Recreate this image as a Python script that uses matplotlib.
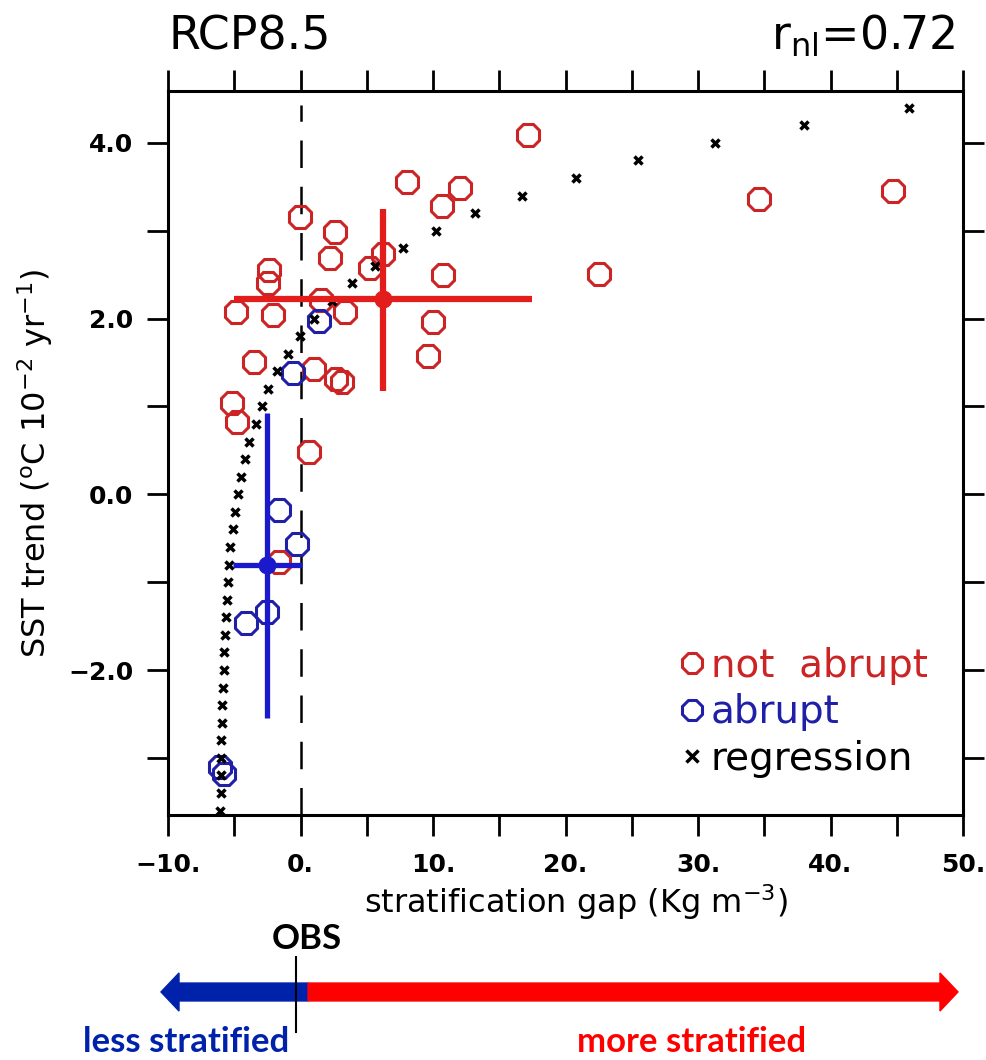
import numpy as np
import matplotlib
matplotlib.use('Agg')
import matplotlib.pyplot as plt
from matplotlib.lines import Line2D
from matplotlib.patches import Polygon
from matplotlib.ticker import FixedLocator, FixedFormatter
from matplotlib.transforms import blended_transform_factory

plt.rcParams['font.family'] = ['DejaVu Sans']
plt.rcParams['mathtext.default'] = 'regular'

# models, not abrupt (red) / abrupt (blue)
not_abrupt_x = [17.2, 8.0, 12.0, 10.7, -0.05, 2.6, 2.2, 5.25, 6.2, 10.75, -2.4, -2.45, -4.9, -2.1,
                1.55, 3.35, 10.0, 9.6, -3.5, 1.0, 2.7, 3.1, -5.2, -4.8, 0.65, -1.6, 22.5, 34.6, 44.7]
not_abrupt_y = [4.09, 3.55, 3.49, 3.28, 3.16, 2.99, 2.69, 2.58, 2.74, 2.49, 2.55, 2.40, 2.07, 2.04,
                2.21, 2.08, 1.96, 1.57, 1.51, 1.43, 1.31, 1.28, 1.04, 0.82, 0.48, -0.77, 2.51, 3.36, 3.45]
abrupt_x = [1.4, -0.55, -1.6, -0.25, -2.5, -4.1, -6.1, -5.8]
abrupt_y = [1.97, 1.38, -0.18, -0.57, -1.34, -1.46, -3.10, -3.18]

# nonlinear regression curve
reg_y = [-3.6, -3.4, -3.2, -3.0, -2.8, -2.6, -2.4, -2.2, -2.0, -1.8, -1.6, -1.4, -1.2, -1.0,
         -0.8, -0.6, -0.4, -0.2, 0.0, 0.2, 0.4, 0.6, 0.8, 1.0, 1.2, 1.4, 1.6, 1.8, 2.0, 2.2,
         2.4, 2.6, 2.8, 3.0, 3.2, 3.4, 3.6, 3.8, 4.0, 4.2, 4.4]
reg_x = [-6.08, -6.02, -6.0, -6.0, -5.98, -5.94, -5.92, -5.86, -5.8, -5.76, -5.7, -5.62, -5.55, -5.47,
         -5.38, -5.3, -5.1, -4.93, -4.72, -4.48, -4.2, -3.88, -3.38, -2.9, -2.45, -1.77, -0.95, -0.05,
         1.02, 2.38, 3.9, 5.6, 7.75, 10.25, 13.2, 16.7, 20.8, 25.5, 31.3, 38.0, 45.9]

# group means with ranges
not_abrupt_mean = [6.2, 2.22]
not_abrupt_xrange = [-5.0, 17.5]
not_abrupt_yrange = [1.17, 3.25]
abrupt_mean = [-2.5, -0.80]
abrupt_xrange = [-5.1, 0.1]
abrupt_yrange = [-2.55, 0.93]

x_ticks = [-10, 0, 10, 20, 30, 40, 50]
x_ticklabels = ['\u221210.', '0.', '10.', '20.', '30.', '40.', '50.']
y_ticks = [-2, 0, 2, 4]
y_ticklabels = ['\u22122.0', '0.0', '2.0', '4.0']

red_c = '#cc2424'
blue_c = '#1f1fa8'

fig = plt.figure(figsize=(9.86, 10.6), dpi=100)
ax = fig.add_axes([0.1704, 0.2311, 0.8063, 0.6831])

ax.axvline(0, ymin=0, ymax=0.98, color='black', lw=1.8, dashes=(11, 7.5), zorder=1)

ax.plot(not_abrupt_x, not_abrupt_y, ls='none', marker='8', ms=17, mfc='none', mec=red_c, mew=2.2, zorder=2)
ax.plot(abrupt_x, abrupt_y, ls='none', marker='8', ms=17, mfc='none', mec=blue_c, mew=2.2, zorder=2)
ax.plot(reg_x, reg_y, ls='none', marker='x', ms=5.5, mew=2.5, color='black', zorder=3)

for m, xr, yr, c, lw in [(not_abrupt_mean, not_abrupt_xrange, not_abrupt_yrange, '#e31c1c', 4.5),
                          (abrupt_mean, abrupt_xrange, abrupt_yrange, '#1a1acc', 3.8)]:
    ax.errorbar(m[0], m[1],
                xerr=[[m[0] - xr[0]], [xr[1] - m[0]]],
                yerr=[[m[1] - yr[0]], [yr[1] - m[1]]],
                fmt='o', ms=12, color=c, elinewidth=lw, capsize=0, zorder=4)

ax.set_xlim(-10, 50)
ax.set_ylim(-3.65, 4.59)

ax.xaxis.set_major_locator(FixedLocator(x_ticks))
ax.xaxis.set_major_formatter(FixedFormatter(x_ticklabels))
ax.xaxis.set_minor_locator(FixedLocator(np.arange(-5, 50, 10)))
ax.yaxis.set_major_locator(FixedLocator(y_ticks))
ax.yaxis.set_major_formatter(FixedFormatter(y_ticklabels))
ax.yaxis.set_minor_locator(FixedLocator([-3, -1, 1, 3]))

ax.tick_params(which='both', direction='out', length=15, width=2.0,
               top=True, right=True, labeltop=False, labelright=False)
ax.tick_params(axis='x', which='major', pad=12, labelsize=18)
ax.tick_params(axis='y', which='major', pad=10, labelsize=18)
for lab in ax.get_xticklabels() + ax.get_yticklabels():
    lab.set_fontweight('bold')
for s in ax.spines.values():
    s.set_linewidth(2.2)

ax.set_xlabel('stratification gap (Kg m$^{-3}$)', fontsize=23)
ax.xaxis.set_label_coords(0.513, -0.093)
ax.set_ylabel('SST trend ($^{o}$C 10$^{-2}$ yr$^{-1}$)', fontsize=23)
ax.yaxis.set_label_coords(-0.142, 0.486)

ax.set_title('RCP8.5', loc='left', fontsize=33, y=1.0, pad=30)
ax.set_title('r$_{nl}$=0.72', loc='right', fontsize=33, y=1.0, pad=30, x=0.99)

handles = [Line2D([], [], ls='none', marker='8', ms=16, mfc='none', mec=red_c, mew=2.2),
           Line2D([], [], ls='none', marker='8', ms=16, mfc='none', mec=blue_c, mew=2.2),
           Line2D([], [], ls='none', marker='x', ms=9, mew=2.5, color='black')]
ax.legend(handles, ['not  abrupt', 'abrupt', 'regression'], loc='lower right',
          bbox_to_anchor=(0.99, 0.014), frameon=False, fontsize=28, labelspacing=0.22,
          handletextpad=0.05, handlelength=0.9, borderpad=0.2,
          labelcolor=[red_c, blue_c, 'black'])

# OBS arrow below the chart
tr = blended_transform_factory(ax.transData, fig.transFigure)
blue_arrow = Polygon([[-10.53, 0.0642], [-9.17, 0.0821], [-9.17, 0.0726], [0.57, 0.0726],
                      [0.57, 0.0557], [-9.17, 0.0557], [-9.17, 0.0462]],
                     closed=True, color='#0022aa', transform=tr, clip_on=False)
red_arrow = Polygon([[0.57, 0.0726], [48.26, 0.0726], [48.26, 0.0821], [49.62, 0.0642],
                     [48.26, 0.0462], [48.26, 0.0557], [0.57, 0.0557]],
                    closed=True, color='#ff0000', transform=tr, clip_on=False)
fig.add_artist(blue_arrow)
fig.add_artist(red_arrow)
fig.add_artist(Line2D([-0.34, -0.34], [0.0264, 0.0972], color='black', lw=1.5, transform=tr))

fig.text(0.49, 0.114, 'OBS', transform=tr, ha='center', va='center',
         fontsize=25, fontweight='bold', family='Lato')
fig.text(-8.64, 0.002, 'less stratified', transform=tr, ha='center', va='bottom',
         fontsize=25, fontweight='bold', family='Lato', color='#0022aa')
fig.text(29.55, 0.002, 'more stratified', transform=tr, ha='center', va='bottom',
         fontsize=25, fontweight='bold', family='Lato', color='#ff0000')

fig.savefig('out.png', dpi=100)
